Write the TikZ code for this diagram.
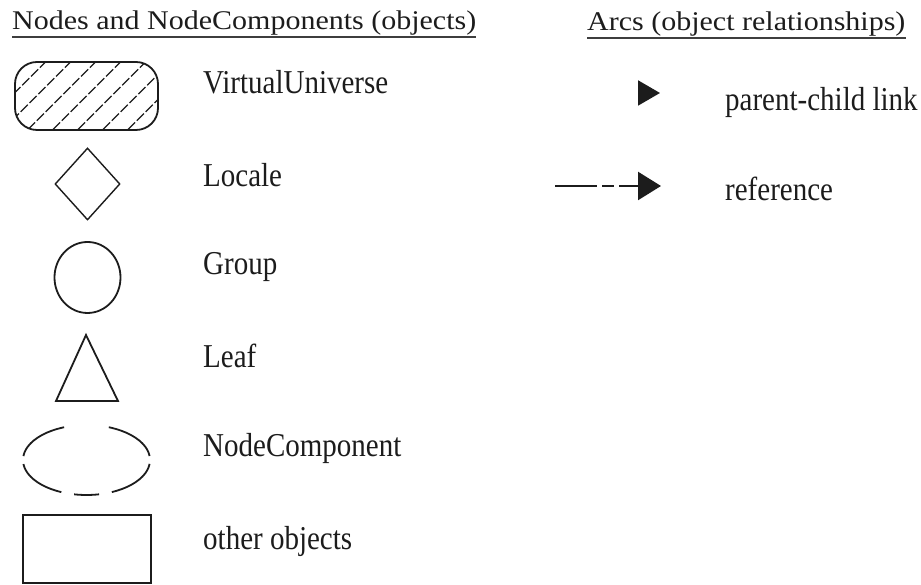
\documentclass[tikz,border=0pt]{standalone}
\usepackage{fontspec}
\setmainfont{Liberation Serif}
\usetikzlibrary{arrows.meta,shapes.geometric}
\definecolor{ink}{HTML}{1C1C1C}
\newcommand{\tallText}[1]{\scalebox{1}[1.15]{#1}}
\newcommand{\flatText}[1]{\scalebox{1}[0.9]{#1}}
\tikzset{
  heading/.style={text=ink, font=\fontsize{30}{36}\selectfont, anchor=base west, inner sep=0pt},
  uline/.style={line width=1.6pt, draw=ink!85},
  lab/.style={text=ink, font=\fontsize{29}{34}\selectfont, anchor=base west, inner sep=0pt},
  outline/.style={draw=ink, line width=1.8pt, inner sep=0pt},
  hatch/.style={draw=ink, line width=1.3pt, dash pattern=on 10pt off 2.5pt},
  tipP/.style={-{Triangle[length=22pt,width=25pt]}, draw=ink, line width=2pt},
  refarc/.style={-{Triangle[length=23pt,width=28pt]}, draw=ink, line width=2.4pt,
    dash pattern=on 42pt off 5pt on 12pt off 5pt}
}
\begin{document}
\begin{tikzpicture}[x=1pt, y=1pt]
  \useasboundingbox (0,0) rectangle (921,585);
  % headings
  \node[heading] (objhead) at (12,555) {\flatText{Nodes and NodeComponents (objects)}};
  \node[heading] (archead) at (587,554) {\flatText{Arcs (object relationships)}};
  \draw[uline] ([yshift=-7pt]objhead.base west) -- ([yshift=-7pt]objhead.base east);
  \draw[uline] ([yshift=-7pt]archead.base west) -- ([yshift=-7pt]archead.base east);
  % object shapes
  \node[outline, rectangle, rounded corners=22pt, minimum width=143pt, minimum height=68pt,
    path picture={\foreach \k in {-8,...,8}
      \draw[hatch] ([xshift=\k*25pt]path picture bounding box.center) ++(-60pt,-60pt) -- ++(120pt,120pt);}]
    (vu) at (86.5,489) {};
  \node[outline, diamond, line width=1.4pt, minimum width=65pt, minimum height=72pt] (locale) at (87.5,401) {};
  \node[outline, ellipse, minimum width=66pt, minimum height=71pt] (group) at (87.5,307.5) {};
  \draw[outline] (86,250) -- (118,184) -- (56,184) -- cycle;
  \node[outline, ellipse, minimum width=127pt, minimum height=70pt,
    dash pattern=on 52.5pt off 45pt on 52.5pt off 8pt on 49.5pt off 13pt on 25pt off 13pt on 49.5pt off 8pt,
    dash phase=312pt] (nodecomp) at (86.5,125) {};
  \node[outline, rectangle, minimum width=128pt, minimum height=68pt] (other) at (87,36) {};
  % object labels
  \node[lab] (vulab) at (203,491) {\tallText{VirtualUniverse}};
  \node[lab] (localelab) at (203,398) {\tallText{Locale}};
  \node[lab] (grouplab) at (203,310) {\tallText{Group}};
  \node[lab] (leaflab) at (203,217) {\tallText{Leaf}};
  \node[lab] (nclab) at (203,128) {\tallText{NodeComponent}};
  \node[lab] (otherlab) at (203,35) {\tallText{other objects}};
  % arcs
  \coordinate (pcA) at (640,492);
  \coordinate (pcB) at (660,492);
  \draw[tipP] (pcA) -- (pcB);
  \coordinate (refA) at (555,399);
  \coordinate (refB) at (661,399);
  \draw[refarc] (refA) -- (refB);
  \node[lab] (pclab) at (725,474) {\tallText{parent-child link}};
  \node[lab] (reflab) at (725,384) {\tallText{reference}};
\end{tikzpicture}
\end{document}
